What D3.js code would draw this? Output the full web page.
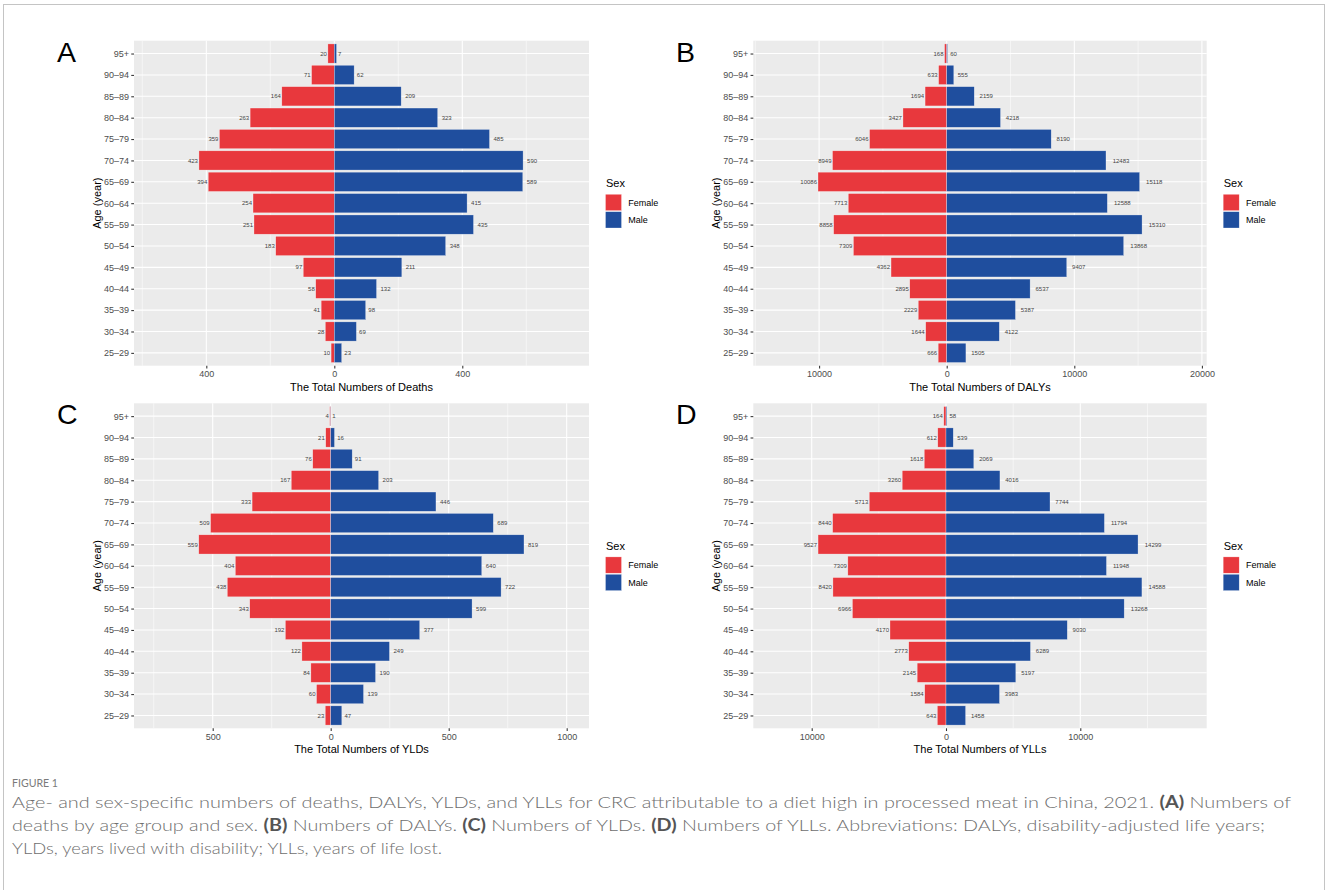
<!DOCTYPE html>
<html>
<head>
<meta charset="utf-8">
<script src="https://cdn.jsdelivr.net/npm/d3@7"></script>
<style>
  body { margin: 0; background: #fff; }
  svg { display: block; }
</style>
</head>
<body>
<svg id="chart" width="1328" height="890"></svg>
<script>
// ---------------- DATA ----------------
const ages = ["95+", "90\u201394", "85\u201389", "80\u201384", "75\u201379", "70\u201374", "65\u201369", "60\u201364",
              "55\u201359", "50\u201354", "45\u201349", "40\u201344", "35\u201339", "30\u201334", "25\u201329"];
const sexes = ["Female", "Male"];

const deathsFemale = [20, 71, 164, 263, 359, 423, 394, 254, 251, 183, 97, 58, 41, 28, 10];
const deathsMale   = [7, 62, 209, 323, 485, 590, 589, 415, 435, 348, 211, 132, 98, 69, 23];

const dalysFemale = [168, 633, 1694, 3427, 6046, 8949, 10086, 7713, 8858, 7309, 4362, 2895, 2229, 1644, 666];
const dalysMale   = [60, 555, 2159, 4218, 8190, 12483, 15118, 12588, 15310, 13868, 9407, 6537, 5387, 4122, 1505];

const yldsFemale = [4, 21, 76, 167, 333, 509, 559, 404, 438, 343, 192, 122, 84, 60, 23];
const yldsMale   = [1, 16, 91, 203, 446, 689, 819, 640, 722, 599, 377, 249, 190, 139, 47];

const yllsFemale = [164, 612, 1618, 3260, 5713, 8440, 9527, 7309, 8420, 6966, 4170, 2773, 2145, 1584, 643];
const yllsMale   = [58, 539, 2069, 4016, 7744, 11794, 14299, 11948, 14588, 13268, 9030, 6289, 5197, 3983, 1458];

const deathsTicks = [-400, 0, 400];
const deathsMinor = [-600, -200, 200, 600];
const dalysTicks = [-10000, 0, 10000, 20000];
const dalysMinor = [-15000, -5000, 5000, 15000];
const yldsTicks = [-500, 0, 500, 1000];
const yldsMinor = [-750, -250, 250, 750];
const yllsTicks = [-10000, 0, 10000];
const yllsMinor = [-5000, 5000, 15000];

const xTitles = ["The Total Numbers of Deaths", "The Total Numbers of DALYs",
                 "The Total Numbers of YLDs", "The Total Numbers of YLLs"];
const panelLetters = ["A", "B", "C", "D"];
const yTitle = "Age (year)";
const legendTitle = "Sex";

// ---------------- STYLE / LAYOUT ----------------
const colors = { Female: "#E8383D", Male: "#1F4E9E" };
const FONT = "'Liberation Sans', Arial, Helvetica, sans-serif";

const panels = [
  { letter: panelLetters[0], female: deathsFemale, male: deathsMale, ticks: deathsTicks, minor: deathsMinor,
    domain: [-626, 796], left: 134, right: 589, top: 40.7, bottom: 365.7, title: xTitles[0], lx: 57 },
  { letter: panelLetters[1], female: dalysFemale, male: dalysMale, ticks: dalysTicks, minor: dalysMinor,
    domain: [-15157, 20376], left: 753.3, right: 1206.7, top: 40.7, bottom: 365.7, title: xTitles[1], lx: 676 },
  { letter: panelLetters[2], female: yldsFemale, male: yldsMale, ticks: yldsTicks, minor: yldsMinor,
    domain: [-833.5, 1094.5], left: 134, right: 589, top: 403.3, bottom: 728.3, title: xTitles[2], lx: 57 },
  { letter: panelLetters[3], female: yllsFemale, male: yllsMale, ticks: yllsTicks, minor: yllsMinor,
    domain: [-14349, 19412], left: 753.3, right: 1206.7, top: 403.3, bottom: 728.3, title: xTitles[3], lx: 676 }
];

const svg = d3.select("#chart");

// outer frame
svg.append("rect").attr("x", 3.5).attr("y", 4.5).attr("width", 1321).attr("height", 900)
  .attr("fill", "none").attr("stroke", "#c4c4c4").attr("stroke-width", 1);

function drawPanel(p) {
  const g = svg.append("g");
  const x = d3.scaleLinear().domain(p.domain).range([p.left, p.right]);
  const y = d3.scalePoint().domain(ages).range([p.top, p.bottom]).padding(0.6);
  const bh = y.step() * 0.9;

  // background
  g.append("rect").attr("x", p.left).attr("y", p.top)
    .attr("width", p.right - p.left).attr("height", p.bottom - p.top).attr("fill", "#EBEBEB");

  // minor vertical grid
  g.selectAll(".minor").data(p.minor.filter(v => x(v) >= p.left && x(v) <= p.right)).enter()
    .append("line").attr("x1", d => x(d)).attr("x2", d => x(d))
    .attr("y1", p.top).attr("y2", p.bottom).attr("stroke", "#fff").attr("stroke-width", 0.53);
  // major vertical grid
  g.selectAll(".major").data(p.ticks).enter()
    .append("line").attr("x1", d => x(d)).attr("x2", d => x(d))
    .attr("y1", p.top).attr("y2", p.bottom).attr("stroke", "#fff").attr("stroke-width", 1.07);
  // horizontal grid
  g.selectAll(".hg").data(ages).enter()
    .append("line").attr("x1", p.left).attr("x2", p.right)
    .attr("y1", d => y(d)).attr("y2", d => y(d)).attr("stroke", "#fff").attr("stroke-width", 1.07);

  const rows = ages.map((a, i) => ({ age: a, f: p.female[i], m: p.male[i] }));

  // bars
  g.selectAll(".bf").data(rows).enter().append("rect")
    .attr("x", d => x(-d.f)).attr("width", d => x(0) - x(-d.f))
    .attr("y", d => y(d.age) - bh / 2).attr("height", bh)
    .attr("fill", colors.Female).attr("stroke", "#fff").attr("stroke-opacity", 0.55).attr("stroke-width", 0.5);
  g.selectAll(".bm").data(rows).enter().append("rect")
    .attr("x", x(0)).attr("width", d => x(d.m) - x(0))
    .attr("y", d => y(d.age) - bh / 2).attr("height", bh)
    .attr("fill", colors.Male).attr("stroke", "#fff").attr("stroke-opacity", 0.55).attr("stroke-width", 0.5);

  // value labels
  g.selectAll(".lf").data(rows).enter().append("text")
    .attr("x", d => x(-d.f) - 1).attr("y", d => y(d.age)).attr("dy", "0.35em")
    .attr("text-anchor", "end").attr("font-family", FONT).attr("font-size", 6).attr("fill", "#444")
    .text(d => d.f);
  g.selectAll(".lm").data(rows).enter().append("text")
    .attr("y", d => y(d.age)).attr("dy", "0.35em")
    .attr("text-anchor", "start").attr("font-family", FONT).attr("font-size", 6).attr("fill", "#444")
    .text(d => d.m)
    .each(function (d) {
      const w = this.getComputedTextLength();
      d3.select(this).attr("x", x(d.m) + 0.4 * w);
    });

  // y axis
  const ya = g.append("g").attr("transform", `translate(${p.left},0)`)
    .call(d3.axisLeft(y).tickSize(2.75).tickPadding(2.2));
  ya.select(".domain").remove();
  ya.selectAll(".tick line").attr("stroke", "#333").attr("stroke-width", 1.07);
  ya.selectAll(".tick text").attr("font-family", FONT).attr("font-size", 9).attr("fill", "#4D4D4D");

  // x axis
  const xa = g.append("g").attr("transform", `translate(0,${p.bottom})`)
    .call(d3.axisBottom(x).tickValues(p.ticks).tickFormat(d => Math.abs(d)).tickSize(2.75).tickPadding(2.2));
  xa.select(".domain").remove();
  xa.selectAll(".tick line").attr("stroke", "#333").attr("stroke-width", 1.07);
  xa.selectAll(".tick text").attr("font-family", FONT).attr("font-size", 9).attr("fill", "#4D4D4D");

  // titles
  g.append("text").attr("x", (p.left + p.right) / 2).attr("y", p.bottom + 24.8)
    .attr("text-anchor", "middle").attr("font-family", FONT).attr("font-size", 11).attr("fill", "#000")
    .text(p.title);
  const cy = (p.top + p.bottom) / 2;
  g.append("text").attr("transform", `translate(${p.left - 33.5},${cy}) rotate(-90)`)
    .attr("text-anchor", "middle").attr("font-family", FONT).attr("font-size", 11).attr("fill", "#000")
    .text(yTitle);

  // legend
  const lg = g.append("g").attr("transform", `translate(${p.right + 16.5},${cy})`);
  lg.append("text").attr("x", 0.5).attr("y", -15.9).attr("font-family", FONT).attr("font-size", 11)
    .attr("fill", "#000").text(legendTitle);
  sexes.forEach((s, i) => {
    lg.append("rect").attr("x", 0).attr("y", -8.9 + i * 17.4).attr("width", 16).attr("height", 16.3)
      .attr("fill", colors[s]).attr("stroke", "#fff").attr("stroke-opacity", 0.55).attr("stroke-width", 0.5);
    lg.append("text").attr("x", 22.8).attr("y", -0.5 + i * 17.6).attr("dy", "0.35em")
      .attr("font-family", FONT).attr("font-size", 9).attr("fill", "#000").text(s);
  });

  // panel letter
  g.append("text").attr("x", p.lx).attr("y", p.top + 20.9).attr("font-family", FONT)
    .attr("font-size", 28.5).attr("fill", "#000").text(p.letter);
}

panels.forEach(drawPanel);

// ---------------- CAPTION ----------------
const CFONT = "Lato, 'Open Sans', sans-serif";
const capColor = "#6e6e6e";
svg.append("text").attr("x", 12).attr("y", 786.5).attr("font-family", CFONT).attr("font-size", 11.5)
  .attr("fill", "#7a7a7a").attr("textLength", 46).attr("lengthAdjust", "spacingAndGlyphs").text("FIGURE 1");

const captionLines = [
  { parts: [["Age- and sex-specific numbers of deaths, DALYs, YLDs, and YLLs for CRC attributable to a diet high in processed meat in China, 2021. ", false], ["(A)", true], [" Numbers of", false]], w: 1279, y: 808 },
  { parts: [["deaths by age group and sex. ", false], ["(B)", true], [" Numbers of DALYs. ", false], ["(C)", true], [" Numbers of YLDs. ", false], ["(D)", true], [" Numbers of YLLs. Abbreviations: DALYs, disability-adjusted life years;", false]], w: 1253, y: 831 },
  { parts: [["YLDs, years lived with disability; YLLs, years of life lost.", false]], w: 430, y: 854 }
];
captionLines.forEach(l => {
  const t = svg.append("text").attr("x", 12).attr("y", l.y).attr("font-family", CFONT).attr("font-size", 16.5)
    .attr("fill", capColor).attr("textLength", l.w).attr("lengthAdjust", "spacingAndGlyphs")
    .attr("xml:space", "preserve").style("white-space", "pre");
  l.parts.forEach(([txt, bold]) => {
    t.append("tspan").attr("font-weight", bold ? 700 : 300).attr("fill", bold ? "#555" : capColor).text(txt);
  });
});
</script>
</body>
</html>
